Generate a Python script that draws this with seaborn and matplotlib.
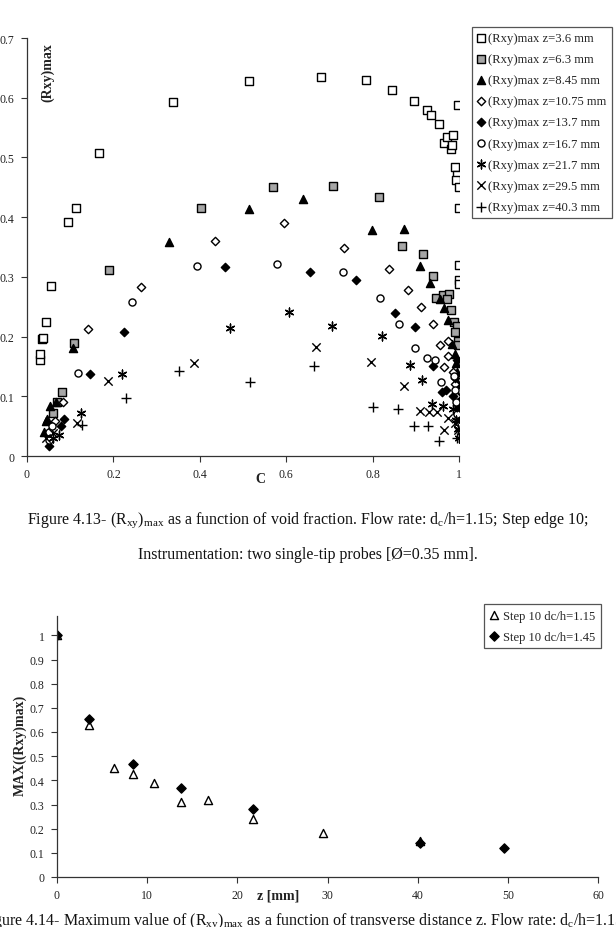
import numpy as np
import pandas as pd
import matplotlib
matplotlib.use('Agg')
import matplotlib.pyplot as plt
import seaborn as sns

# --- data: figure 4.13, (Rxy)max vs void fraction C ---
c_36 = [0.030, 0.030, 0.034, 0.038, 0.044, 0.056, 0.095, 0.113, 0.167, 0.339, 0.513, 0.680, 0.785, 0.846, 0.895, 0.926,
        0.935, 0.954, 0.965, 0.972, 0.986, 0.981, 0.984, 0.998, 0.991, 0.995, 0.993, 1.000, 1.000, 1.000, 1.000, 1.000]
r_36 = [0.161, 0.171, 0.196, 0.198, 0.224, 0.285, 0.392, 0.415, 0.507, 0.593, 0.628, 0.635, 0.630, 0.613, 0.595, 0.580,
        0.571, 0.556, 0.525, 0.535, 0.537, 0.514, 0.521, 0.588, 0.484, 0.471, 0.463, 0.450, 0.416, 0.320, 0.295, 0.288]
c_63 = [0.061, 0.069, 0.082, 0.109, 0.190, 0.402, 0.570, 0.708, 0.815, 0.867, 0.917, 0.940, 0.946, 0.963, 0.976, 0.972,
        0.981, 0.988, 0.995, 0.991, 0.998, 0.998]
r_63 = [0.072, 0.090, 0.107, 0.189, 0.312, 0.415, 0.450, 0.452, 0.433, 0.352, 0.338, 0.302, 0.265, 0.270, 0.271, 0.263,
        0.244, 0.224, 0.218, 0.207, 0.193, 0.186]
c_845 = [0.040, 0.044, 0.046, 0.053, 0.068, 0.107, 0.329, 0.515, 0.638, 0.798, 0.873, 0.910, 0.933, 0.956, 0.965, 0.974,
         0.983, 0.990, 0.993, 0.995, 0.997, 0.998, 0.999]
r_845 = [0.040, 0.059, 0.062, 0.084, 0.090, 0.181, 0.358, 0.414, 0.430, 0.379, 0.380, 0.318, 0.290, 0.263, 0.248, 0.228,
         0.188, 0.170, 0.155, 0.140, 0.120, 0.100, 0.075]
c_1075 = [0.050, 0.065, 0.083, 0.141, 0.263, 0.435, 0.595, 0.733, 0.838, 0.881, 0.912, 0.940, 0.956, 0.975, 0.975, 0.965,
          0.986, 0.990, 0.993, 0.997, 0.999]
r_1075 = [0.040, 0.058, 0.090, 0.212, 0.283, 0.360, 0.390, 0.348, 0.313, 0.278, 0.250, 0.221, 0.186, 0.192, 0.167, 0.149,
          0.140, 0.120, 0.100, 0.085, 0.065]
c_137 = [0.050, 0.078, 0.086, 0.146, 0.224, 0.458, 0.655, 0.762, 0.852, 0.898, 0.940, 0.961, 0.970, 0.985, 0.990, 0.995,
         0.998, 1.000]
r_137 = [0.017, 0.050, 0.062, 0.137, 0.208, 0.317, 0.308, 0.295, 0.240, 0.216, 0.151, 0.107, 0.110, 0.100, 0.130, 0.160,
         0.080, 0.060]
c_167 = [0.050, 0.052, 0.059, 0.119, 0.243, 0.394, 0.579, 0.732, 0.817, 0.861, 0.898, 0.926, 0.944, 0.958, 0.988, 0.990,
         0.993, 0.996, 0.998]
r_167 = [0.026, 0.040, 0.050, 0.139, 0.258, 0.318, 0.322, 0.308, 0.265, 0.221, 0.181, 0.164, 0.161, 0.124, 0.134, 0.110,
         0.090, 0.070, 0.050]
c_217 = [0.060, 0.075, 0.125, 0.219, 0.470, 0.606, 0.706, 0.822, 0.887, 0.915, 0.937, 0.962, 0.985, 0.993, 0.997, 1.000]
r_217 = [0.030, 0.035, 0.072, 0.137, 0.214, 0.241, 0.218, 0.201, 0.152, 0.128, 0.087, 0.084, 0.079, 0.060, 0.045, 0.030]
c_295 = [0.045, 0.060, 0.115, 0.187, 0.387, 0.668, 0.796, 0.873, 0.910, 0.930, 0.950, 0.975, 0.965, 0.998, 0.990]
r_295 = [0.030, 0.038, 0.055, 0.126, 0.156, 0.183, 0.157, 0.117, 0.075, 0.074, 0.074, 0.063, 0.044, 0.044, 0.055]
c_403 = [0.127, 0.229, 0.352, 0.516, 0.665, 0.800, 0.858, 0.896, 0.928, 0.954, 0.995]
r_403 = [0.052, 0.097, 0.142, 0.124, 0.151, 0.082, 0.079, 0.050, 0.050, 0.025, 0.030]

labels_top = ['(Rxy)max z=3.6 mm', '(Rxy)max z=6.3 mm', '(Rxy)max z=8.45 mm', '(Rxy)max z=10.75 mm',
              '(Rxy)max z=13.7 mm', '(Rxy)max z=16.7 mm', '(Rxy)max z=21.7 mm', '(Rxy)max z=29.5 mm',
              '(Rxy)max z=40.3 mm']

# --- data: figure 4.14, MAX((Rxy)max) vs z ---
z_115 = [0, 3.6, 6.3, 8.45, 10.75, 13.7, 16.7, 21.7, 29.5, 40.3]
m_115 = [1.0, 0.630, 0.450, 0.425, 0.390, 0.312, 0.318, 0.238, 0.183, 0.148]
z_145 = [0, 3.6, 8.45, 13.7, 21.7, 40.3, 49.6]
m_145 = [1.0, 0.652, 0.467, 0.367, 0.283, 0.142, 0.118]
labels_bot = ['Step 10 dc/h=1.15', 'Step 10 dc/h=1.45']

sns.set_style('white')
plt.rcParams['font.family'] = ['Liberation Serif', 'DejaVu Serif']
plt.rcParams['mathtext.fontset'] = 'custom'
plt.rcParams['mathtext.rm'] = 'Liberation Serif'

W, H = 616, 928
fig = plt.figure(figsize=(W / 100, H / 100), dpi=100)

def style_axes(ax):
    for s in ['top', 'right']:
        ax.spines[s].set_visible(False)
    for s in ['left', 'bottom']:
        ax.spines[s].set_color('#333333')
        ax.spines[s].set_linewidth(0.9)
    ax.tick_params(axis='both', direction='out', length=4, width=0.8, color='#333333',
                   labelsize=8.5, labelcolor='#222222', left=True, bottom=True, pad=5)
    ax.grid(False)

# ---- top chart ----
ax1 = fig.add_axes([27 / W, 1 - 457 / H, 432 / W, 418 / H])
styles = [
    (c_36, r_36, 's', 'white', 'black', 28),
    (c_63, r_63, 's', '#a6a6a6', 'black', 28),
    (c_845, r_845, '^', 'black', 'black', 34),
    (c_1075, r_1075, 'D', 'white', 'black', 18),
    (c_137, r_137, 'D', 'black', 'black', 18),
    (c_167, r_167, 'o', 'white', 'black', 26),
    (c_217, r_217, (6, 2, 0), 'black', 'black', 40),
    (c_295, r_295, 'x', 'black', 'black', 36),
    (c_403, r_403, '+', 'black', 'black', 44),
]
for (cx, ry, mk, fc, ec, sz), lab in zip(styles, labels_top):
    df = pd.DataFrame({'C': cx, 'R': ry})
    if mk in ['x', '+'] or isinstance(mk, tuple):
        sns.scatterplot(data=df, x='C', y='R', marker=mk, color=ec, s=sz, linewidth=1.0, ax=ax1, label=lab)
    else:
        sns.scatterplot(data=df, x='C', y='R', marker=mk, color=fc, edgecolor=ec, s=sz, linewidth=1.0,
                        ax=ax1, label=lab)
ax1.set_xlim(0, 1)
ax1.set_ylim(0, 0.7)
ax1.set_xticks(np.arange(0, 1.01, 0.2))
ax1.set_xticklabels(['0', '0.2', '0.4', '0.6', '0.8', '1'])
ax1.set_yticks(np.arange(0, 0.71, 0.1))
ax1.set_yticklabels(['0', '0.1', '0.2', '0.3', '0.4', '0.5', '0.6', '0.7'])
style_axes(ax1)
ax1.set_xlabel('')
ax1.set_ylabel('')
ax1.text(0.047, 0.99, '(Rxy)max', transform=ax1.transAxes, rotation=90, ha='center', va='top',
         fontsize=10, fontweight='bold', color='#222222')
ax1.text(0.54, -0.055, 'C', transform=ax1.transAxes, ha='center', va='center',
         fontsize=10, fontweight='bold', color='#222222')
h, l = ax1.get_legend_handles_labels()
ax1.legend_.remove()
leg1 = fig.legend(h, l, loc='upper left', bbox_to_anchor=(472 / W, 1 - 28 / H), fontsize=9.1,
                  frameon=True, fancybox=False, edgecolor='#555555', framealpha=1, borderpad=0.4,
                  handlelength=0.6, handletextpad=0.3, labelspacing=0.72, borderaxespad=0)
leg1.get_frame().set_linewidth(0.9)

fig.text(0.5, 1 - 520 / H,
         r'Figure 4.13- (R$_{\mathregular{xy}}$)$_{\mathregular{max}}$ as a function of void fraction. '
         r'Flow rate: d$_{\mathregular{c}}$/h=1.15; Step edge 10;',
         ha='center', va='center', fontsize=11.5, color='#111111')
fig.text(0.5, 1 - 555 / H, 'Instrumentation: two single-tip probes [Ø=0.35 mm].',
         ha='center', va='center', fontsize=11.5, color='#111111')

# ---- bottom chart ----
ax2 = fig.add_axes([57 / W, 1 - 878 / H, 541 / W, 261 / H])
sns.scatterplot(x=z_115, y=m_115, marker='^', color='white', edgecolor='black', s=34, linewidth=1.0,
                ax=ax2, label=labels_bot[0])
sns.scatterplot(x=z_145, y=m_145, marker='D', color='black', edgecolor='black', s=22, linewidth=1.0,
                ax=ax2, label=labels_bot[1])
ax2.set_xlim(0, 60)
ax2.set_ylim(0, 1.08)
ax2.set_xticks(np.arange(0, 61, 10))
ax2.set_yticks(np.arange(0, 1.01, 0.1))
ax2.set_yticklabels(['0', '0.1', '0.2', '0.3', '0.4', '0.5', '0.6', '0.7', '0.8', '0.9', '1'])
style_axes(ax2)
ax2.set_xlabel('')
ax2.set_ylabel('')
ax2.text(24.5, -0.075, 'z [mm]', ha='center', va='center', fontsize=10, fontweight='bold', color='#222222',
         transform=ax2.transData)
fig.text(20 / W, 1 - 745 / H, 'MAX((Rxy)max)', rotation=90, ha='center', va='center',
         fontsize=10, fontweight='bold', color='#222222')
h2, l2 = ax2.get_legend_handles_labels()
ax2.legend_.remove()
leg2 = fig.legend(h2, l2, loc='upper left', bbox_to_anchor=(484 / W, 1 - 605 / H), fontsize=9.1,
                  frameon=True, fancybox=False, edgecolor='#555555', framealpha=1, borderpad=0.45,
                  handlelength=0.7, handletextpad=0.35, labelspacing=0.7, borderaxespad=0)
leg2.get_frame().set_linewidth(0.9)

fig.text(-20 / W, 1 - 921 / H,
         r'Figure 4.14- Maximum value of (R$_{\mathregular{xy}}$)$_{\mathregular{max}}$ as a function of transverse '
         r'distance z. Flow rate: d$_{\mathregular{c}}$/h=1.15 and 1.45; Step edge 10.',
         ha='left', va='center', fontsize=11.5, color='#111111')

fig.savefig('out.png', dpi=100, facecolor='white')
